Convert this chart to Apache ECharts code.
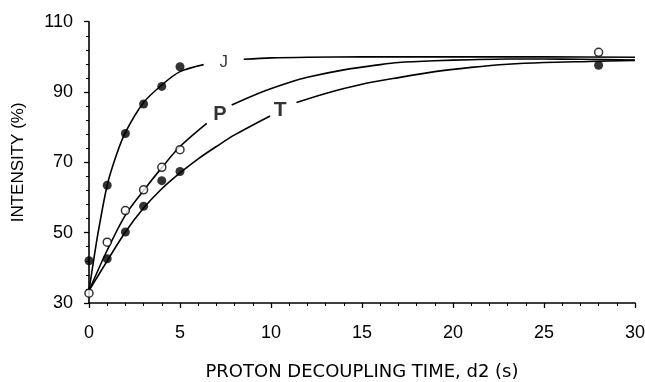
<!DOCTYPE html>
<html>
<head>
<meta charset="utf-8">
<script src="https://cdn.jsdelivr.net/npm/echarts@6/dist/echarts.min.js"></script>
<style>
	html, body { margin: 0; padding: 0; background: #fff; }
	#chart { width: 645px; height: 382px; }
</style>
</head>
<body>
<div id="chart"></div>
<script>
	var jDotsX = [ 0, 1, 2, 3, 4, 5 ];
	var jDotsY = [ 42, 63.5, 78.2, 86.6, 91.6, 97.2 ];
	var pDotsX = [ 0, 1, 2, 3, 4, 5, 28 ];
	var pDotsY = [ 32.8, 47.3, 56.3, 62.2, 68.6, 73.6, 101.3 ];
	var tDotsX = [ 1, 2, 3, 4, 5, 28 ];
	var tDotsY = [ 42.6, 50.2, 57.5, 64.8, 67.4, 97.6 ];

	// fitted curves (null = gap where the letter sits)
	var jCurveX = [ 0, 0.25, 0.5, 1, 1.5, 2, 3, 4, 5, 6.3, null, 8.5, 10, 12, 15, 20, 25, 30 ];
	var jCurveY = [ 33.5, 42, 50, 63.5, 72, 78.5, 87, 92, 95.8, 97.8, null, 99.3, 99.7, 99.9, 100, 100, 100, 99.9 ];
	var pCurveX = [ 0, 1, 2, 3, 4, 5, 6.47, null, 7.84, 9.5, 11, 12, 14, 16, 17, 19, 21, 23, 25, 27, 30 ];
	var pCurveY = [ 33.5, 45, 55, 62, 68.5, 74.5, 81.1, null, 86.3, 90, 92.7, 94.2, 96.3, 97.8, 98.4, 98.9, 99.2, 99.4, 99.4, 99.3, 99.1 ];
	var tCurveX = [ 0, 1, 2, 3, 4, 5, 6, 7, 8, 9.95, null, 11.4, 13, 15, 17, 19, 21, 23, 25, 27.5, 30 ];
	var tCurveY = [ 33.5, 42, 50.2, 57, 62.5, 67, 71, 74.5, 77.8, 83.2, null, 87, 89.6, 92.2, 94.1, 95.8, 97, 97.9, 98.4, 98.7, 99 ];

	var curveNames = [ 'J', 'P', 'T' ];
	var curveLabelX = [ 7.4, 7.2, 10.5 ];
	var curveLabelY = [ 98.4, 83.6, 84.9 ];

	var xTitle = 'PROTON DECOUPLING TIME, d2 (s)';
	var yTitle = 'INTENSITY (%)';

	function pairs( xs, ys ) {
		return xs.map( function( x, i ) {
			return x === null ? [ NaN, NaN ] : [ x, ys[ i ] ];
		} );
	}

	var labelStyles = [
		{ fontSize: 17, fontWeight: 'normal' },
		{ fontSize: 20, fontWeight: 'bold' },
		{ fontSize: 21, fontWeight: 'bold' }
	];

	var chart = echarts.init( document.getElementById( 'chart' ), null, { renderer: 'canvas' } );

	var lineStyle = { color: '#000', width: 1.6 };
	var filled = { color: '#000' };
	var open = { color: '#fff', borderColor: '#000', borderWidth: 1.5 };

	var option = {
		animation: false,
		backgroundColor: '#fff',
		grid: { left: 89, right: 10, top: 21.7, bottom: 79, outerBoundsMode: 'none', containLabel: false },
		xAxis: {
			type: 'value',
			min: 0,
			max: 30,
			interval: 5,
			name: xTitle,
			nameLocation: 'middle',
			nameGap: 60,
			nameTextStyle: { fontFamily: 'DejaVu Sans', fontSize: 18, color: '#000' },
			axisLine: { onZero: false, lineStyle: { color: '#000', width: 1.6 } },
			axisTick: { length: 5, lineStyle: { color: '#000', width: 1.3 } },
			minorTick: { show: true, splitNumber: 5, length: 3, lineStyle: { color: '#000' } },
			axisLabel: { fontFamily: 'Liberation Sans', fontSize: 18, color: '#000', margin: 21 },
			splitLine: { show: false }
		},
		yAxis: {
			type: 'value',
			min: 30,
			max: 110,
			interval: 20,
			name: yTitle,
			nameLocation: 'middle',
			nameGap: 62,
			nameTextStyle: { fontFamily: 'Liberation Sans', fontSize: 17, color: '#000' },
			axisLine: { show: true, onZero: false, lineStyle: { color: '#000', width: 1.6 } },
			axisTick: { length: 5, lineStyle: { color: '#000', width: 1.3 } },
			minorTick: { show: true, splitNumber: 5, length: 3, lineStyle: { color: '#000' } },
			axisLabel: { fontFamily: 'Liberation Sans', fontSize: 18, color: '#000', margin: 16 },
			splitLine: { show: false }
		},
		series: [
			{ type: 'line', data: pairs( jCurveX, jCurveY ), smooth: 0.3, showSymbol: false, lineStyle: lineStyle, connectNulls: false },
			{ type: 'line', data: pairs( pCurveX, pCurveY ), smooth: 0.3, showSymbol: false, lineStyle: lineStyle, connectNulls: false },
			{ type: 'line', data: pairs( tCurveX, tCurveY ), smooth: 0.3, showSymbol: false, lineStyle: lineStyle, connectNulls: false },
			{ type: 'scatter', data: pairs( jDotsX, jDotsY ), symbolSize: 9, itemStyle: filled, z: 5 },
			{ type: 'scatter', data: pairs( tDotsX, tDotsY ), symbolSize: 9, itemStyle: filled, z: 5 },
			{ type: 'scatter', data: pairs( pDotsX, pDotsY ), symbolSize: 8, itemStyle: open, z: 6 },
			{
				type: 'scatter',
				symbolSize: 0,
				silent: true,
				data: curveNames.map( function( n, i ) {
					return {
						value: [ curveLabelX[ i ], curveLabelY[ i ] ],
						label: labelStyles[ i ]
					};
				} ),
				label: {
					show: true,
					position: 'inside',
					color: '#000',
					fontFamily: 'Liberation Sans',
					formatter: function( p ) {
						return curveNames[ p.dataIndex ];
					}
				}
			}
		]
	};

	chart.setOption( option );
</script>
</body>
</html>
